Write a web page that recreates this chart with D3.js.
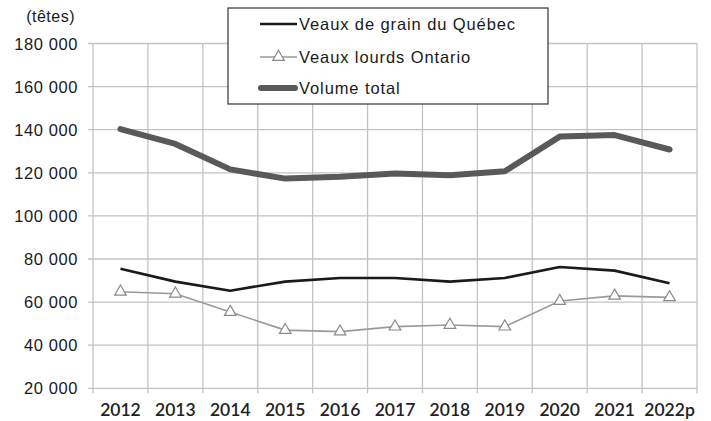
<!DOCTYPE html>
<html>
<head>
<meta charset="utf-8">
<script src="https://cdn.jsdelivr.net/npm/d3@7/dist/d3.min.js"></script>
<style>
  html, body { margin: 0; padding: 0; background: #fff; }
  svg { display: block; }
</style>
</head>
<body>
<svg id="chart" width="711" height="421"></svg>
<script>
const years = ["2012","2013","2014","2015","2016","2017","2018","2019","2020","2021","2022p"];
const quebec = [75500, 69500, 65300, 69500, 71200, 71200, 69500, 71200, 76300, 74600, 68700];
const ontario = [64800, 63900, 55400, 47000, 46300, 48600, 49400, 48600, 60500, 62900, 62200];
const total = [140300, 133400, 121600, 117300, 118200, 119700, 118900, 120700, 136800, 137500, 130800];
const yTicks = [20000, 40000, 60000, 80000, 100000, 120000, 140000, 160000, 180000];
const seriesNames = ["Veaux de grain du Québec", "Veaux lourds Ontario", "Volume total"];

const svg = d3.select("#chart");
const pLeft = 93, pRight = 697, pTop = 43.5, pBottom = 388.3;

const x = d3.scaleBand().domain(years).range([pLeft, pRight]).padding(0);
const y = d3.scaleLinear().domain([20000, 180000]).range([pBottom, pTop]);
const cx = d => x(d) + x.bandwidth() / 2;

const gridColor = "#c3c3c3";
const fmt = v => d3.format(",")(v).replace(/,/g, " ");

// horizontal gridlines + y tick marks
svg.append("g").selectAll("line").data(yTicks).join("line")
  .attr("x1", pLeft - 5).attr("x2", pRight)
  .attr("y1", d => y(d)).attr("y2", d => y(d))
  .attr("stroke", gridColor).attr("stroke-width", 1.3);

// vertical gridlines at category boundaries
const bounds = years.map(d => x(d)).concat([pRight]);
svg.append("g").selectAll("line").data(bounds).join("line")
  .attr("x1", d => d).attr("x2", d => d)
  .attr("y1", pTop).attr("y2", pBottom + 5)
  .attr("stroke", gridColor).attr("stroke-width", 1.3);

// y labels
svg.append("g").selectAll("text").data(yTicks).join("text")
  .attr("x", 78).attr("y", d => y(d) + 6)
  .attr("text-anchor", "end")
  .attr("font-family", "Liberation Sans, Arial, sans-serif")
  .attr("font-size", 16.5).attr("letter-spacing", 0.6)
  .attr("fill", "#1a1a1a")
  .text(fmt);

svg.append("text").attr("x", 75).attr("y", 22)
  .attr("text-anchor", "end")
  .attr("font-family", "Liberation Sans, Arial, sans-serif")
  .attr("font-size", 16).attr("letter-spacing", 0.5)
  .attr("fill", "#1a1a1a").text("(têtes)");

// x labels
svg.append("g").selectAll("text").data(years).join("text")
  .attr("x", d => cx(d)).attr("y", 416)
  .attr("text-anchor", "middle")
  .attr("font-family", "Lato, sans-serif")
  .attr("font-size", 17.5).attr("font-weight", 600)
  .attr("fill", "#222")
  .text(d => d);

const line = d3.line().x((d, i) => cx(years[i])).y(d => y(d));

svg.append("path").datum(total).attr("d", line)
  .attr("fill", "none").attr("stroke", "#595959").attr("stroke-width", 6)
  .attr("stroke-linecap", "round").attr("stroke-linejoin", "round");

svg.append("path").datum(quebec).attr("d", line)
  .attr("fill", "none").attr("stroke", "#1a1a1a").attr("stroke-width", 2.6)
  .attr("stroke-linejoin", "round");

svg.append("path").datum(ontario).attr("d", line)
  .attr("fill", "none").attr("stroke", "#9a9a9a").attr("stroke-width", 1.6);

const tri = d3.symbol().type(d3.symbolTriangle).size(58);
svg.append("g").selectAll("path").data(ontario).join("path")
  .attr("transform", (d, i) => `translate(${cx(years[i])},${y(d)})`)
  .attr("d", tri)
  .attr("fill", "#fff").attr("stroke", "#8a8a8a").attr("stroke-width", 1.2);

// legend
const lg = svg.append("g");
lg.append("rect").attr("x", 228).attr("y", 8).attr("width", 320).attr("height", 96)
  .attr("fill", "#fff").attr("stroke", "#333").attr("stroke-width", 1.2);
const ly = [24, 57, 88];
lg.append("line").attr("x1", 260).attr("x2", 297).attr("y1", ly[0]).attr("y2", ly[0])
  .attr("stroke", "#1a1a1a").attr("stroke-width", 2.6);
lg.append("line").attr("x1", 260).attr("x2", 297).attr("y1", ly[1]).attr("y2", ly[1])
  .attr("stroke", "#9a9a9a").attr("stroke-width", 1.6);
lg.append("path").attr("transform", `translate(278.5,${ly[1]})`).attr("d", tri)
  .attr("fill", "#fff").attr("stroke", "#8a8a8a").attr("stroke-width", 1.2);
lg.append("line").attr("x1", 261).attr("x2", 295).attr("y1", ly[2]).attr("y2", ly[2])
  .attr("stroke", "#595959").attr("stroke-width", 6).attr("stroke-linecap", "round");
lg.selectAll("text.lab").data(seriesNames).join("text")
  .attr("class", "lab")
  .attr("x", 299).attr("y", (d, i) => ly[i] + 6)
  .attr("font-family", "Liberation Sans, Arial, sans-serif")
  .attr("font-size", 16.5).attr("letter-spacing", 0.9)
  .attr("fill", "#1a1a1a")
  .text(d => d);
</script>
</body>
</html>
